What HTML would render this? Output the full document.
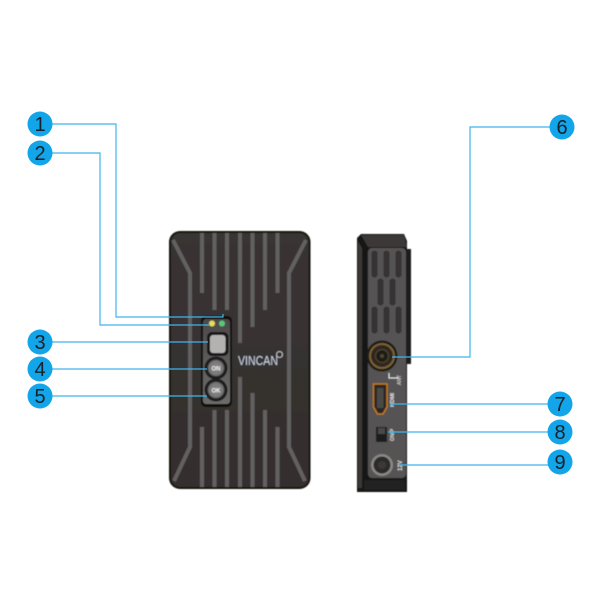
<!DOCTYPE html>
<html><head><meta charset="utf-8"><style>
html,body{margin:0;padding:0;background:#fff;width:600px;height:600px;overflow:hidden}
svg{display:block}
text{font-family:"Liberation Sans",sans-serif}
</style></head><body>
<svg width="600" height="600" viewBox="0 0 600 600" xmlns="http://www.w3.org/2000/svg">
<defs>
<filter id="b" x="-5%" y="-5%" width="110%" height="110%"><feGaussianBlur stdDeviation="0.6"/></filter>
<filter id="t" x="-5%" y="-5%" width="110%" height="110%"><feGaussianBlur stdDeviation="0.3"/></filter>
<linearGradient id="body" x1="0" y1="0" x2="0" y2="1"><stop offset="0" stop-color="#393433"/><stop offset="1" stop-color="#342e2d"/></linearGradient>
<linearGradient id="panel" x1="0" y1="0" x2="0" y2="1"><stop offset="0" stop-color="#4c4a49"/><stop offset="1" stop-color="#6e6c6b"/></linearGradient>
<radialGradient id="btn"><stop offset="0" stop-color="#8a8887"/><stop offset="0.8" stop-color="#777"/><stop offset="1" stop-color="#222"/></radialGradient>
</defs>
<g filter="url(#b)">
<!-- front device -->
<rect x="169" y="231" width="141.500" height="258" rx="11" fill="#141211"/>
<rect x="171" y="233" width="137.500" height="254" rx="9" fill="url(#body)"/>
<g stroke="#626060" stroke-width="4" fill="none">
<path d="M173 240L190 273V447L174 481"/>
<path d="M306 240L289 273V447L305 481"/>
<path d="M202 233V293M214.500 233V310M227 233V310M240 233V343M252.500 233V327M265 233V310M277.500 233V293"/>
<path d="M202 427V487M214.500 410V487M227 410V487M240 377V487M252.500 393V487M265 410V487M277.500 427V487"/>
</g>
<!-- control panel -->
<rect x="201" y="316" width="31" height="91" rx="5" fill="#0e0d0d"/>
<rect x="203" y="319" width="27" height="85" rx="3" fill="url(#panel)"/>
<circle cx="212" cy="323.500" r="3" fill="#e8dc58"/>
<circle cx="222" cy="323.500" r="3" fill="#58c878"/>
<rect x="207" y="332" width="21.500" height="24" rx="5" fill="#141313"/>
<rect x="210" y="335" width="15.500" height="18" rx="3" fill="#b4b2b0"/>
<circle cx="216" cy="368" r="11.500" fill="#1c1b1b"/>
<circle cx="216" cy="368" r="9" fill="url(#btn)"/>
<text x="216" y="370.500" font-size="6" font-weight="bold" fill="#eee" text-anchor="middle">ON</text>
<circle cx="216" cy="390" r="11.500" fill="#1c1b1b"/>
<circle cx="216" cy="390" r="9" fill="url(#btn)"/>
<text x="216" y="392.500" font-size="6" font-weight="bold" fill="#eee" text-anchor="middle">OK</text>
<text x="238" y="365" font-size="13" fill="#c8d0e2" textLength="40" lengthAdjust="spacingAndGlyphs">VINCAN</text>
<circle cx="279.500" cy="354.500" r="3" fill="none" stroke="#d8dce4" stroke-width="0.800"/>
<!-- side device -->
<path d="M357 238L361 234H404L407 241V492H357Z" fill="#151312"/>
<path d="M361 235H404L407 247H368Z" fill="#3c3837"/>
<rect x="407" y="249" width="4" height="115" fill="#1f1d1c"/>
<rect x="368" y="248" width="38" height="230" rx="4" fill="#555352"/>
<path d="M358 241L362 248V488H358Z" fill="#3a3736"/>
<path d="M364 480H405V490H364Z" fill="#242221"/>
<g fill="#393331" stroke="#2a2625" stroke-width="0.600">
<rect x="372" y="251" width="5" height="26" rx="2.500"/><rect x="384" y="251" width="5" height="26" rx="2.500"/><rect x="396" y="251" width="5" height="26" rx="2.500"/>
<rect x="378" y="279" width="5" height="26" rx="2.500"/><rect x="390" y="279" width="5" height="26" rx="2.500"/>
<rect x="372" y="307" width="5" height="26" rx="2.500"/><rect x="384" y="307" width="5" height="26" rx="2.500"/><rect x="396" y="307" width="5" height="26" rx="2.500"/>
</g>
<!-- SMA connector -->
<circle cx="382" cy="356" r="15.500" fill="#1f1c19"/>
<circle cx="382" cy="356" r="12" fill="#2d2821" stroke="#7d6233" stroke-width="2"/>
<circle cx="382" cy="356" r="6.500" fill="#1d1a18" stroke="#4c4029" stroke-width="1.500"/>
<circle cx="382" cy="356" r="2" fill="#4f4632"/>
<path d="M389 373V378H399" fill="none" stroke="#ddd" stroke-width="1.200"/>
<text transform="translate(401 385) rotate(-90)" font-size="5" fill="#ddd">ANT</text>
<!-- HDMI -->
<path d="M373.500 384H387V407L383 414H377.500L373.500 407Z" fill="#2a2827" stroke="#c4781e" stroke-width="1.500"/>
<rect x="377" y="388" width="6.500" height="20" fill="#4a4847"/>
<text transform="translate(394 407) rotate(-90)" font-size="5.500" font-weight="bold" fill="#e4e4ec">HDMI</text>
<!-- switch -->
<rect x="376" y="427" width="11" height="15" fill="#1c1b1b"/>
<rect x="378" y="428" width="7" height="6" fill="#4a4847"/>
<text transform="translate(394 441) rotate(-90)" font-size="5" font-weight="bold" fill="#ddd">ON/P</text>
<!-- power jack -->
<circle cx="382" cy="465" r="11" fill="#8a8886"/>
<circle cx="382" cy="465" r="8.500" fill="#2f2c2b"/>
<circle cx="382" cy="465" r="4" fill="#3c3938"/>
<text transform="translate(402 471) rotate(-90)" font-size="6" font-weight="bold" fill="#ddd">12V</text>
</g>
<!-- leaders -->
<g fill="none" stroke="#3fb4ec" stroke-width="1.200">
<path d="M40 124H116V317H223V314"/>
<path d="M40 153H100V325H210"/>
<path d="M40 342H208"/>
<path d="M40 369H207"/>
<path d="M40 396H207"/>
<path d="M562 127H470V357H392"/>
<path d="M560 404H390"/>
<path d="M560 432H388"/>
<path d="M560 465H400"/>
</g>
<!-- callouts -->
<g fill="#12a5ea">
<circle cx="40" cy="124" r="12.500"/>
<circle cx="40" cy="153" r="12.500"/>
<circle cx="40" cy="342" r="12.500"/>
<circle cx="40" cy="369" r="12.500"/>
<circle cx="40" cy="396" r="12.500"/>
<circle cx="562" cy="127" r="12.500"/>
<circle cx="560" cy="404" r="12.500"/>
<circle cx="560" cy="432" r="12.500"/>
<circle cx="560" cy="462" r="12.500"/>
</g>
<g font-size="20" fill="#14202a" text-anchor="middle" filter="url(#t)">
<text x="40" y="131">1</text>
<text x="40" y="160">2</text>
<text x="40" y="349">3</text>
<text x="40" y="376">4</text>
<text x="40" y="403">5</text>
<text x="562" y="134">6</text>
<text x="560" y="411">7</text>
<text x="560" y="439">8</text>
<text x="560" y="469">9</text>
</g>
</svg>
</body></html>
